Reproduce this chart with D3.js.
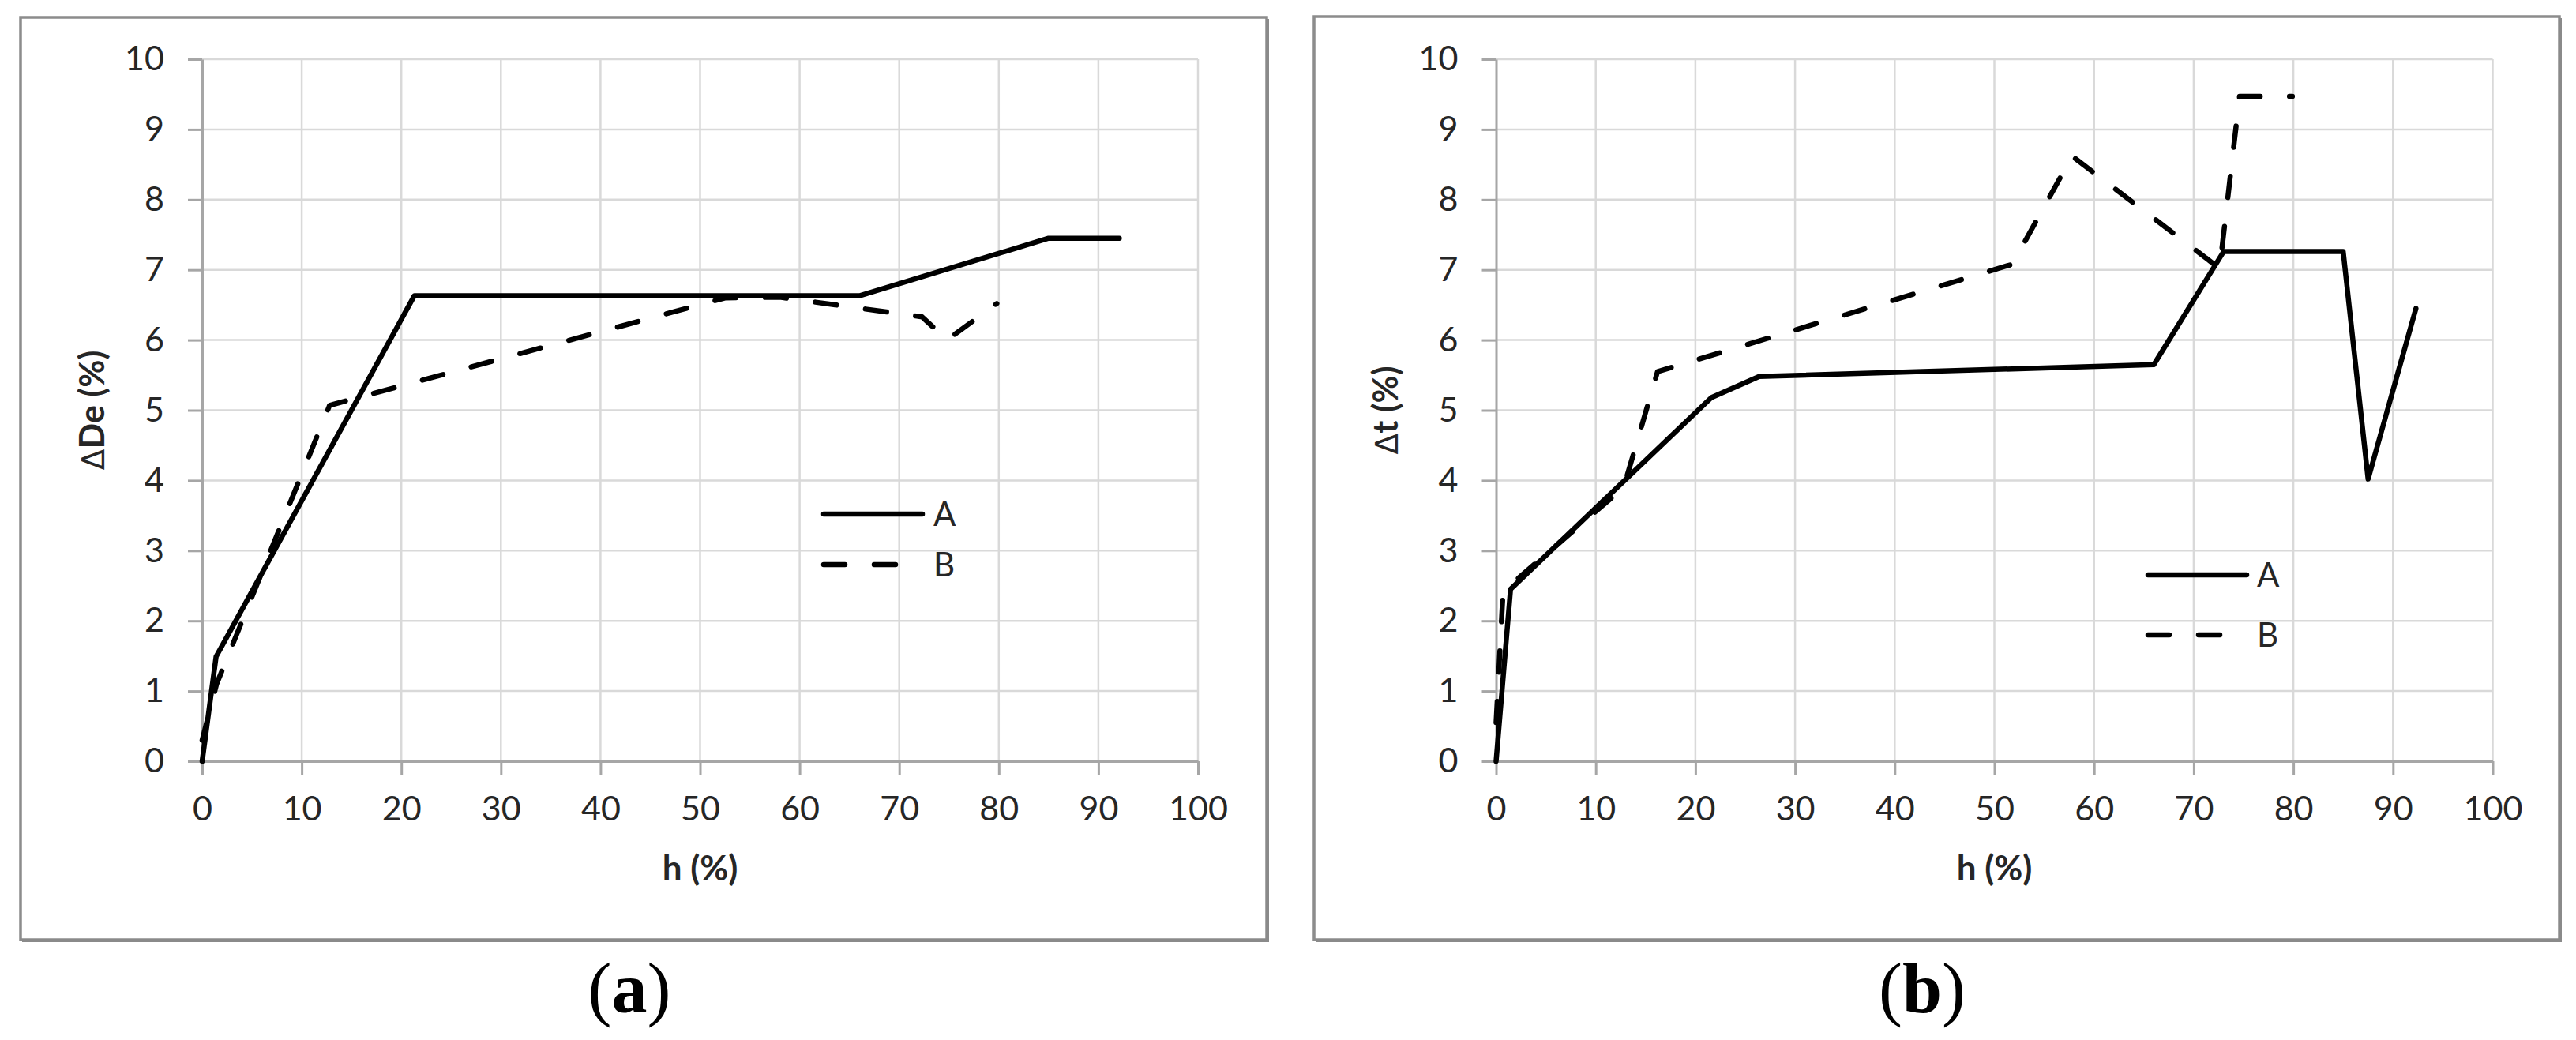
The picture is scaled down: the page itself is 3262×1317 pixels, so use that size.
<!DOCTYPE html>
<html>
<head>
<meta charset="utf-8">
<script src="https://cdn.jsdelivr.net/npm/d3@7"></script>
<style>
    body { margin: 0; background: #fff; }
    svg { display: block; }
</style>
</head>
<body>
<div id="chart"></div>
<script>
// Values (h in %, change in %)
const seriesNames = ['A', 'B'];
const xTickValues = [0, 10, 20, 30, 40, 50, 60, 70, 80, 90, 100];
const yTickValues = [0, 1, 2, 3, 4, 5, 6, 7, 8, 9, 10];

// panel (a): ΔDe
const hA_a  = [0, 1.4, 21.3, 66.0, 85.0, 92.1];
const deA_a = [0, 1.49, 6.63, 6.63, 7.45, 7.45];
const hB_a  = [0, 1.45, 12.8, 52.5, 58.0, 72.3, 74.8, 79.8];
const deB_a = [0.3, 1.1, 5.07, 6.6, 6.61, 6.33, 6.0, 6.52];

// panel (b): Δt
const hA_b  = [0, 1.45, 21.6, 26.4, 66.0, 73.0, 85.0, 87.5, 92.3];
const dtA_b = [0, 2.45, 5.18, 5.48, 5.65, 7.26, 7.26, 4.02, 6.45];
const hB_b  = [0, 0.7, 12.8, 16.2, 51.8, 57.8, 72.6, 74.6, 79.9];
const dtB_b = [0.55, 2.42, 3.9, 5.55, 7.08, 8.62, 7.02, 9.47, 9.47];

const W = 3262, H = 1317;

// layout of each panel (pixels)
const panels = [
    {
        letter: 'a', yLabel: 'De (%)',
        series: [d3.zip(hA_a, deA_a), d3.zip(hB_a, deB_a)],
        box: [26, 22, 1578, 1168],
        plot: { left: 256, right: 1517, top: 75, bottom: 964 },
        yTitleX: 132,
        legend: { x0: 1043, x1: 1168, textX: 1182, ys: [651, 715] },
        captionX: 797
    },
    {
        letter: 'b', yLabel: 't (%)',
        series: [d3.zip(hA_b, dtA_b), d3.zip(hB_b, dtB_b)],
        box: [1664, 21, 1577, 1169],
        plot: { left: 1894.5, right: 3156.5, top: 75, bottom: 964 },
        yTitleX: 1770,
        legend: { x0: 2720, x1: 2845, textX: 2858, ys: [728, 804] },
        captionX: 2434
    }
];

const font = 'Lato, "Open Sans", sans-serif';
const gridColor = '#d9d9d9';
const axisColor = '#a6a6a6';
const lineWidth = 6.5;
const dash = '27,37';

const svg = d3.select('#chart')
    .append('svg')
    .attr('width', W)
    .attr('height', H)
    .attr('viewBox', [0, 0, W, H]);

svg.append('rect').attr('width', W).attr('height', H).attr('fill', '#fff');

panels.forEach(p => drawPanel(p));

function drawPanel(p) {
    const g = svg.append('g');
    const [bx, by, bw, bh] = p.box;

    // frame with a slightly heavier right/bottom edge
    g.append('rect')
        .attr('x', bx).attr('y', by)
        .attr('width', bw).attr('height', bh)
        .attr('fill', 'none')
        .attr('stroke', '#8c8c8c')
        .attr('stroke-width', 3.5);
    g.append('path')
        .attr('d', `M${bx + bw + 1},${by + 2}V${by + bh + 1}H${bx + 2}`)
        .attr('fill', 'none')
        .attr('stroke', '#8a8a8a')
        .attr('stroke-width', 4);

    const x = d3.scaleLinear().domain([0, 100]).range([p.plot.left, p.plot.right]);
    const y = d3.scaleLinear().domain([0, 10]).range([p.plot.bottom, p.plot.top]);

    // gridlines
    g.append('g')
        .selectAll('line')
        .data(xTickValues.filter(v => v > 0))
        .join('line')
        .attr('x1', d => x(d)).attr('x2', d => x(d))
        .attr('y1', y(0)).attr('y2', y(10))
        .attr('stroke', gridColor).attr('stroke-width', 2.5);
    g.append('g')
        .selectAll('line')
        .data(yTickValues.filter(v => v > 0))
        .join('line')
        .attr('x1', x(0)).attr('x2', x(100))
        .attr('y1', d => y(d)).attr('y2', d => y(d))
        .attr('stroke', gridColor).attr('stroke-width', 2.5);

    // axes
    const xAxis = g.append('g')
        .attr('transform', `translate(0,${y(0)})`)
        .call(d3.axisBottom(x).tickValues(xTickValues).tickSize(18).tickSizeOuter(0).tickPadding(26));
    const yAxis = g.append('g')
        .attr('transform', `translate(${x(0)},0)`)
        .call(d3.axisLeft(y).tickValues(yTickValues).tickSize(18).tickSizeOuter(0).tickPadding(30));

    [xAxis, yAxis].forEach(a => {
        a.select('.domain').attr('stroke', axisColor).attr('stroke-width', 3);
        a.selectAll('.tick line').attr('stroke', axisColor).attr('stroke-width', 3);
        a.selectAll('.tick text')
            .attr('fill', '#262626')
            .style('font-family', font)
            .style('font-size', '43px');
    });

    // axis titles
    g.append('text')
        .attr('x', (p.plot.left + p.plot.right) / 2)
        .attr('y', 1115)
        .attr('text-anchor', 'middle')
        .attr('fill', '#262626')
        .style('font-family', font)
        .style('font-size', '44px')
        .style('font-weight', 'bold')
        .text('h (%)');

    const yt = g.append('text')
        .attr('transform', `translate(${p.yTitleX},${(p.plot.top + p.plot.bottom) / 2}) rotate(-90)`)
        .attr('text-anchor', 'middle')
        .attr('fill', '#262626')
        .style('font-family', font)
        .style('font-size', '43px');
    yt.append('tspan')
        .style('font-family', '"DejaVu Sans", sans-serif')
        .style('font-weight', 'normal')
        .style('font-size', '39px')
        .text('\u0394');
    yt.append('tspan')
        .style('font-weight', 'bold')
        .text(p.yLabel);

    // data lines
    const line = d3.line().x(d => x(d[0])).y(d => y(d[1]));
    p.series.forEach((s, i) => {
        g.append('path')
            .datum(s)
            .attr('d', line)
            .attr('fill', 'none')
            .attr('stroke', '#000')
            .attr('stroke-width', lineWidth)
            .attr('stroke-linejoin', 'round')
            .attr('stroke-linecap', 'round')
            .attr('stroke-dasharray', i === 1 ? dash : null);
    });

    // legend
    const lg = g.append('g');
    seriesNames.forEach((name, i) => {
        const ly = p.legend.ys[i];
        lg.append('line')
            .attr('x1', p.legend.x0).attr('x2', p.legend.x1)
            .attr('y1', ly).attr('y2', ly)
            .attr('stroke', '#000')
            .attr('stroke-width', lineWidth)
            .attr('stroke-linecap', 'round')
            .attr('stroke-dasharray', i === 1 ? dash : null);
        lg.append('text')
            .attr('x', p.legend.textX)
            .attr('y', ly)
            .attr('dy', '0.35em')
            .attr('fill', '#262626')
            .style('font-family', font)
            .style('font-size', '42px')
            .text(name);
    });

    // caption under the frame
    const cap = svg.append('text')
        .attr('x', p.captionX)
        .attr('y', 1282)
        .attr('text-anchor', 'middle')
        .attr('fill', '#000')
        .style('font-family', '"Liberation Serif", "Times New Roman", serif')
        .style('font-size', '90px');
    cap.append('tspan').text('(');
    cap.append('tspan').style('font-weight', 'bold').text(p.letter);
    cap.append('tspan').text(')');
}
</script>
</body>
</html>
